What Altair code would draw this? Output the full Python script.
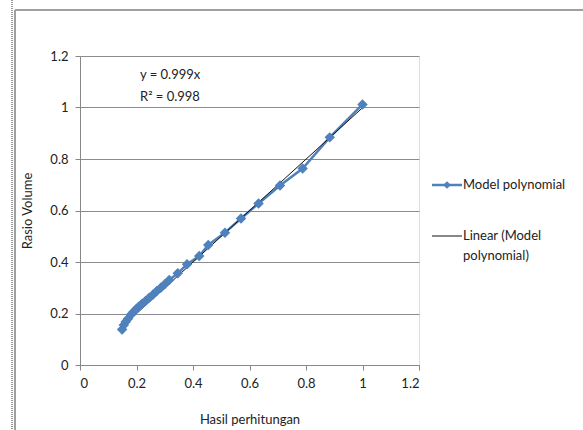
import altair as alt
import pandas as pd

# Data
hasil = [0.149, 0.155, 0.162, 0.170, 0.180, 0.190, 0.200, 0.210, 0.220, 0.232,
         0.245, 0.258, 0.272, 0.286, 0.300, 0.316, 0.346, 0.379, 0.422, 0.454,
         0.513, 0.570, 0.632, 0.708, 0.788, 0.884, 1.000]
rasio = [0.138, 0.155, 0.168, 0.180, 0.195, 0.207, 0.218, 0.228, 0.238, 0.249,
         0.261, 0.273, 0.287, 0.300, 0.314, 0.330, 0.356, 0.391, 0.423, 0.466,
         0.514, 0.569, 0.627, 0.697, 0.763, 0.884, 1.012]
slope = 0.999
eq_lines = ["y = 0.999x", "R² = 0.998"]
series_names = ["Model polynomial", "Linear (Model", "polynomial)"]
tick_vals = [0, 0.2, 0.4, 0.6, 0.8, 1, 1.2]

FONT = "Lato, sans-serif"
FS = 13
BLUE = "#4F81BD"
TXT = "#222222"
LBL = "datum.value == 0 ? '0' : datum.value == 1 ? '1' : format(datum.value, '.1f')"

df = pd.DataFrame({"x": hasil, "y": rasio})
trend = pd.DataFrame({"x": [min(hasil), max(hasil)],
                      "y": [slope * min(hasil), slope * max(hasil)]})
one = pd.DataFrame({"a": [0]})

xs = alt.Scale(domain=[0, 1.2], nice=False)
ys = alt.Scale(domain=[0, 1.2], nice=False)

common = dict(tickSize=5, labelPadding=7, labelFontSize=FS, titleFontSize=FS,
              domainColor="#888888", tickColor="#888888", labelColor=TXT, titleColor=TXT,
              labelFont=FONT, titleFont=FONT, titleFontWeight="normal", labelExpr=LBL)
xax = alt.Axis(values=tick_vals, grid=False, title="Hasil perhitungan", titlePadding=23, **common)
yax = alt.Axis(values=tick_vals, grid=True, gridColor="#8c8c8c", title="Rasio Volume",
               titlePadding=15, **common)

base = alt.Chart(df)
line = base.mark_line(color=BLUE, strokeWidth=2.5).encode(
    x=alt.X("x:Q", scale=xs, axis=xax), y=alt.Y("y:Q", scale=ys, axis=yax))
pts = base.mark_point(shape="diamond", filled=True, color=BLUE, size=110, opacity=1).encode(
    x=alt.X("x:Q", scale=xs), y=alt.Y("y:Q", scale=ys))
tline = alt.Chart(trend).mark_line(color="#111111", strokeWidth=1).encode(
    x=alt.X("x:Q", scale=xs), y=alt.Y("y:Q", scale=ys))


def txt(s, x, y):
    return alt.Chart(one).mark_text(align="left", baseline="middle", font=FONT,
                                    fontSize=FS, color=TXT).encode(
        x=alt.value(x), y=alt.value(y), text=alt.value(s))


eq1 = txt(eq_lines[0], 60, 19)
eq2 = txt(eq_lines[1], 60, 41)

# legend
leg_line1 = alt.Chart(one).mark_rule(color=BLUE, strokeWidth=2.5).encode(
    x=alt.value(352), x2=alt.value(382), y=alt.value(129))
leg_pt = alt.Chart(one).mark_point(shape="diamond", filled=True, color=BLUE, size=60, opacity=1).encode(
    x=alt.value(367), y=alt.value(129))
leg_line2 = alt.Chart(one).mark_rule(color="#111111", strokeWidth=1).encode(
    x=alt.value(352), x2=alt.value(382), y=alt.value(180))
lt1 = txt(series_names[0], 383, 129)
lt2 = txt(series_names[1], 383, 180)
lt3 = txt(series_names[2], 383, 200)

# outer chart frame
frame_top = alt.Chart(one).mark_rule(color="#a0a0a0", strokeWidth=2).encode(
    x=alt.value(-65), x2=alt.value(520), y=alt.value(-46))
frame_left = alt.Chart(one).mark_rule(color="#a0a0a0", strokeWidth=2).encode(
    x=alt.value(-65), y=alt.value(-46), y2=alt.value(380))
frame_dot = alt.Chart(one).mark_rule(color="#333333", strokeWidth=1, strokeDash=[1, 1]).encode(
    x=alt.value(-68), y=alt.value(-56), y2=alt.value(380))

chart = alt.layer(frame_top, frame_left, frame_dot, line, tline, pts, eq1, eq2,
                  leg_line1, leg_pt, leg_line2, lt1, lt2, lt3).properties(
    width=339, height=309,
    autosize=alt.AutoSizeParams(type="none"),
    padding={"left": 80, "top": 56, "right": 164, "bottom": 65},
).configure_view(stroke="#888888", strokeWidth=1).configure(background="white")

chart.save("out.html", embed_options={"renderer": "svg", "actions": False})
